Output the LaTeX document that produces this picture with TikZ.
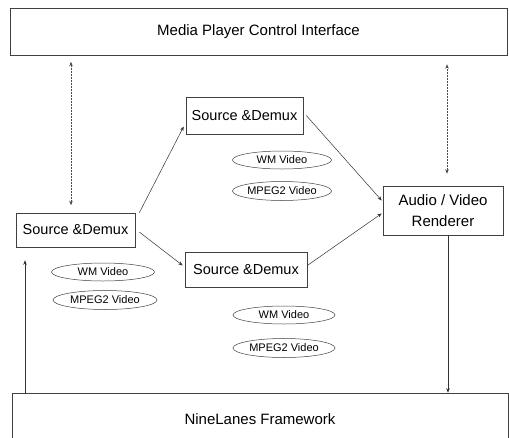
\documentclass[tikz,border=0pt]{standalone}
\usepackage{fontspec}
\setmainfont{Liberation Sans}
\usetikzlibrary{shapes.geometric,arrows.meta}
\begin{document}
\begin{tikzpicture}[x=1pt,y=-1pt,
  box/.style={draw=black!75, line width=0.6pt, inner sep=0pt, font=\fontsize{14.5}{17}\selectfont, align=center},
  oval/.style={draw=black!75, line width=0.5pt, ellipse, inner sep=0pt, font=\fontsize{11}{12}\selectfont},
  arr/.style={draw=black!80, line width=0.5pt, -{Stealth[length=4.5pt,width=3.5pt]}},
  darr/.style={draw=black!70, line width=0.5pt, densely dotted, {Stealth[length=4.5pt,width=3.5pt]}-{Stealth[length=4.5pt,width=3.5pt]}}
]
\path[use as bounding box, clip] (0,0) rectangle (509,437);
\fill[white] (0,0) rectangle (509,437);

\node[box, minimum width=497pt, minimum height=47pt, font=\fontsize{15}{18}\selectfont] (top) at (258.5,31.5) {Media Player Control Interface};
\node[box, minimum width=496pt, minimum height=67pt, font=\fontsize{15}{18}\selectfont, text depth=0pt] (bot) at (260,426.5) {};
\node[font=\fontsize{15}{18}\selectfont] (botlabel) at (260,419) {NineLanes Framework};

\node[box, minimum width=119pt, minimum height=34pt] (lsrc) at (75.5,230) {Source \&Demux};
\node[box, minimum width=117pt, minimum height=37pt] (tsrc) at (244.5,115.5) {Source \&Demux};
\node[box, minimum width=122pt, minimum height=35pt] (bsrc) at (246,269.5) {Source \&Demux};
\node[box, minimum width=120pt, minimum height=49pt, font=\fontsize{15}{20.5}\selectfont] (rend) at (443,210.5) {Audio / Video\\Renderer};

\node[oval, minimum width=103pt, minimum height=18pt] (e1) at (103,272) {WM Video};
\node[oval, minimum width=104pt, minimum height=19pt] (e2) at (105,300) {MPEG2 Video};
\node[oval, minimum width=99pt, minimum height=18pt] (e3) at (282,160) {WM Video};
\node[oval, minimum width=99pt, minimum height=19pt] (e4) at (282,191) {MPEG2 Video};
\node[oval, minimum width=102pt, minimum height=18pt] (e5) at (284,315) {WM Video};
\node[oval, minimum width=102pt, minimum height=19pt] (e6) at (284,348) {MPEG2 Video};

% vertical links
\draw[darr, shorten <=6.5pt, shorten >=7.5pt] (71,0 |- top.south) -- (71,0 |- lsrc.north);
\draw[darr, shorten <=9pt, shorten >=12pt] (447,0 |- top.south) -- (447,0 |- rend.north);
\draw[arr, shorten >=13pt] (25,0 |- bot.north) -- (25,0 |- lsrc.south);
\draw[arr] (448,0 |- rend.south) -- (448,0 |- bot.north);

% flow links
\draw[arr] ([xshift=4pt]lsrc.north east) -- ([yshift=-11pt,xshift=-2pt]tsrc.west);
\draw[arr] ([xshift=4pt,yshift=-2pt]lsrc.east) -- ([yshift=4pt,xshift=-2pt]bsrc.west);
\draw[arr] ([xshift=3pt]tsrc.east) -- ([yshift=10pt,xshift=-1pt]rend.west);
\draw[arr] ([yshift=4pt]bsrc.east) -- ([yshift=-3pt,xshift=-1pt]rend.west);
\end{tikzpicture}
\end{document}
